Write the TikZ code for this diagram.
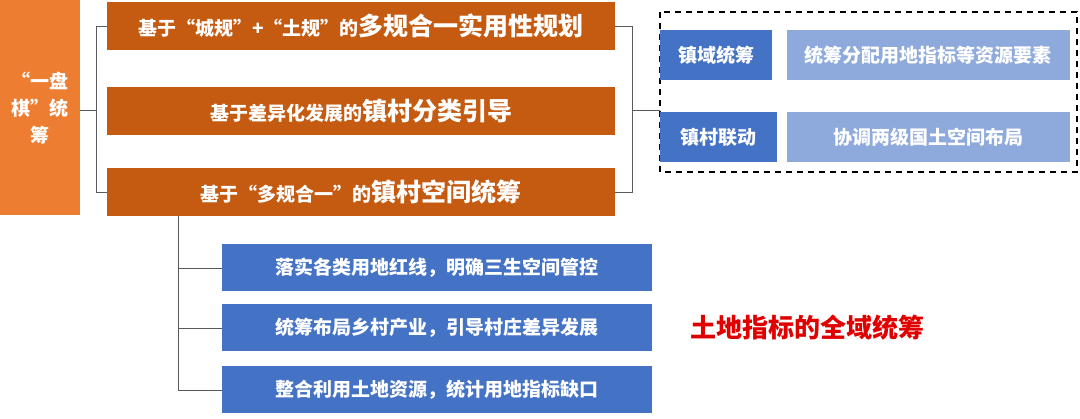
\documentclass[tikz,border=0pt]{standalone}
\usepackage{fontspec}
\setmainfont{Noto Sans CJK SC}
\definecolor{lightorange}{HTML}{ED7D31}
\definecolor{darkorange}{HTML}{C55A11}
\definecolor{midblue}{HTML}{4472C4}
\definecolor{paleblue}{HTML}{8EA9DB}
\definecolor{titlered}{HTML}{E00000}
\tikzset{
  orangebox/.style={fill=darkorange,text=white,font=\bfseries\fontsize{19}{22}\selectfont,inner sep=0pt,minimum width=508pt,minimum height=48pt},
  bluebox/.style={fill=midblue,text=white,font=\bfseries\fontsize{19}{22}\selectfont,inner sep=0pt,minimum height=47pt},
  palebox/.style={fill=paleblue,text=white,font=\bfseries\fontsize{19}{22}\selectfont,inner sep=0pt,minimum width=283pt,minimum height=50pt},
  link/.style={draw=gray!70!black,line width=0.8pt}
}
\newcommand{\bigpart}[1]{{\fontsize{25}{27}\selectfont #1}}
\begin{document}
\begin{tikzpicture}[x=1pt,y=-1pt]
\useasboundingbox (0,0) rectangle (1080,419);
% left block
\node[fill=lightorange,text=white,font=\bfseries\fontsize{19}{27}\selectfont,align=center,minimum width=80pt,minimum height=215pt,inner sep=0pt] (pan) at (40,108) {“一盘\\棋”统\\筹};
% orange rows
\node[orangebox] (o1) at (361,26) {基于“城规”+“土规”的\bigpart{多规合一实用性规划}};
\node[orangebox] (o2) at (361,111) {基于差异化发展的\bigpart{镇村分类引导}};
\node[orangebox] (o3) at (361,192) {基于“多规合一”的\bigpart{镇村空间统筹}};
\coordinate (lb) at (96,110);
\draw[link] (pan.east |- lb) -- (lb);
\draw[link] (o1.west) -- (o1.west -| lb) -- (o3.west -| lb) -- (o3.west);
\coordinate (rb) at (632,110);
\draw[link] (o1.east) -- (o1.east -| rb) -- (o3.east -| rb) -- (o3.east);
% dashed frame
\draw[line width=1.5pt,dash pattern=on 6pt off 5pt] (660,12) rectangle (1077,172);
\coordinate (df) at (660,110);
\draw[link] (rb) -- (df);
\node[bluebox,minimum width=112pt,minimum height=50pt] (zy) at (716,55) {镇域统筹};
\node[palebox] (zyt) at (928,55) {统筹分配用地指标等资源要素};
\node[bluebox,minimum width=117pt,minimum height=50pt] (zc) at (718,137) {镇村联动};
\node[palebox] (zct) at (928,137) {协调两级国土空间布局};
% lower rows
\node[bluebox,minimum width=430pt] (b1) at (437,268) {落实各类用地红线，明确三生空间管控};
\node[bluebox,minimum width=430pt] (b2) at (437,328) {统筹布局乡村产业，引导村庄差异发展};
\node[bluebox,minimum width=430pt] (b3) at (437,390) {整合利用土地资源，统计用地指标缺口};
\coordinate (vl) at (178,216);
\draw[link] (vl) -- (vl |- b3.west) -- (b3.west);
\draw[link] (vl |- b1.west) -- (b1.west);
\draw[link] (vl |- b2.west) -- (b2.west);
\node[text=titlered,font=\bfseries\fontsize{26}{28}\selectfont] (tdzb) at (807,328) {土地指标的全域统筹};
\end{tikzpicture}
\end{document}
